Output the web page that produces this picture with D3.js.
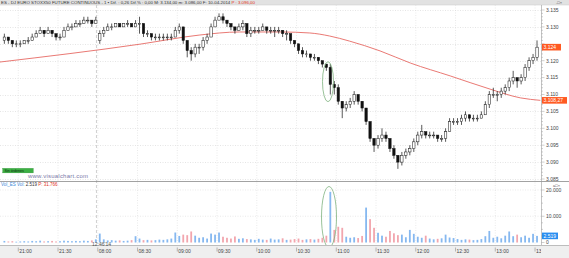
<!DOCTYPE html>
<html>
<head>
<meta charset="utf-8">
<script src="https://cdn.jsdelivr.net/npm/d3@7"></script>
<style>
  body { margin: 0; background: #fff; }
  svg { display: block; font-family: "Liberation Sans", Arial, sans-serif; }
</style>
</head>
<body>
<svg id="chart" width="569" height="258"></svg>
<script>
// 3-minute bars, first bar at 20:48 (session minute -12), day session starts at bar 24
const closes = [3127,3126,3125,3125,3125,3126,3126,3127,3128,3129,
  3128,3129,3128,3127,3127,3129,3130,3130,3131,3131,
  3132,3132,3131,3132,3128,3129,3130,3130,3131,3130,
  3131,3131,3130,3131,3131,3128,3128,3127,3127,3127,
  3127,3127,3127,3129,3130,3126,3123,3122,3124,3124,
  3126,3127,3130,3132,3133,3132,3131,3130,3129,3130,
  3131,3128,3129,3129,3129,3130,3129,3129,3129,3129,
  3128,3128,3126,3125,3123,3122,3122,3121,3121,3120,
  3119,3118,3113,3112,3108,3106,3107,3108,3110,3108,
  3106,3102,3097,3095,3097,3098,3097,3094,3092,3090,
  3092,3093,3094,3096,3098,3099,3098,3098,3098,3097,
  3097,3099,3102,3102,3102,3103,3104,3103,3103,3103,
  3104,3107,3110,3110,3110,3111,3112,3114,3115,3114,
  3115,3118,3120,3121,3124];
const highs = [3128,3127,3126,3126,3126,3126,3127,3128,3129,3130,
  3129,3130,3129,3128,3128,3130,3131,3131,3132,3132,
  3133,3133,3132,3133,3129,3130,3131,3131,3131,3131,
  3131,3132,3131,3132,3133,3131,3129,3128,3128,3128,
  3128,3128,3128,3130,3131,3130,3126,3124,3125,3125,
  3127,3128,3131,3133,3134,3134,3132,3131,3130,3131,
  3132,3131,3130,3130,3130,3131,3130,3130,3130,3130,
  3129,3129,3128,3126,3125,3124,3123,3122,3122,3121,
  3120,3119,3119,3114,3113,3108,3108,3109,3111,3110,
  3108,3106,3102,3097,3098,3100,3099,3097,3095,3092,
  3093,3094,3095,3097,3099,3101,3099,3099,3099,3098,
  3098,3100,3103,3103,3103,3104,3105,3104,3104,3104,
  3105,3108,3111,3112,3111,3112,3113,3115,3117,3115,
  3116,3119,3121,3122,3126];
const lows = [3125,3125,3124,3124,3124,3125,3125,3126,3127,3128,
  3127,3128,3127,3126,3126,3127,3129,3129,3130,3130,
  3131,3131,3130,3131,3125,3127,3129,3129,3130,3130,
  3130,3130,3130,3130,3128,3127,3127,3126,3126,3126,
  3126,3126,3126,3127,3128,3125,3121,3120,3121,3122,
  3123,3125,3127,3130,3132,3131,3130,3129,3128,3129,
  3129,3127,3127,3128,3128,3129,3128,3128,3127,3128,
  3127,3126,3125,3124,3122,3121,3121,3120,3120,3119,
  3118,3117,3110,3110,3107,3103,3105,3106,3107,3107,
  3105,3101,3096,3093,3094,3096,3096,3093,3091,3088,
  3089,3091,3092,3093,3095,3097,3097,3097,3097,3096,
  3096,3096,3099,3101,3101,3101,3102,3102,3102,3102,
  3103,3104,3106,3109,3108,3109,3110,3111,3113,3112,
  3113,3114,3117,3119,3120];
const volumes = [600,400,500,300,400,500,400,600,500,700,
  400,500,600,400,500,700,600,500,600,500,
  700,600,800,1200,3400,1200,800,900,700,800,
  600,700,900,2400,1500,900,1000,800,900,1100,
  1000,1200,1500,3800,2500,3000,2800,4200,2600,1800,
  2000,1500,3400,3000,3800,2200,1800,1500,2300,1400,
  1600,1300,1200,1000,1400,1100,1000,1500,1100,1200,
  1600,1000,1100,1300,1500,1000,1200,1300,1100,1400,
  1800,2600,19300,4800,6000,5600,2200,1800,2000,1700,
  2500,13300,8900,5600,3700,2600,2200,4400,3500,2800,
  3000,2000,4800,3300,2200,1800,2600,1500,1200,1400,
  1600,3000,1900,1700,1300,1000,1200,1100,900,1000,
  1300,2400,4400,1800,2200,1600,2600,4200,2400,3000,
  2000,2600,1800,3300,2519];
// volume bars the platform paints blue although the price bar closed lower
const volBlue = [82, 91];
const firstOpen = 3126;
const dayStart = 24;
const dayOpen = 3126;

// moving average (red line), session minute -> value
const maMinutes = [-14, 92, 137, 167, 198, 220, 235, 250, 273, 296, 326, 356, 379, 394];
const maValues = [3119.6, 3124.9, 3127.6, 3128.5, 3128.5, 3128.2, 3127.3, 3125.8, 3122.9, 3119.3, 3115.5, 3111.6, 3109.0, 3108.27];

const timeLabels = ["21:00","21:30","08:00","08:30","09:00","09:30","10:00","10:30","11:00","11:30","12:00","12:30","13:00","13:30"];
const priceTicks = [3085,3090,3095,3100,3105,3110,3115,3120,3125,3130,3135];
const volTicks = [0, 10000, 20000];

const SETTINGS = { plotRight: 541, priceTop: 5, priceBottom: 181.5, volBottom: 245 };

const loc = d3.formatLocale({decimal: ",", thousands: ".", grouping: [3], currency: ["", ""]});
const fmtInt = loc.format(",.0f");
const fmt2 = loc.format(",.2f");

const svg = d3.select("#chart");
const x = d3.scaleLinear().domain([-13.8, 394.5]).range([0, SETTINGS.plotRight]);
const y = d3.scaleLinear().domain([3085, 3135]).range([179, 10]);
const yv = d3.scaleLinear().domain([0, 20000]).range([242.5, 190]);

function barMinute(i) { return -10.5 + 3 * i; }
function barOpen(i) {
  if (i === 0) return firstOpen;
  if (i === dayStart) return dayOpen;
  return closes[i - 1];
}

let defs = svg.append("defs");
defs.append("clipPath").attr("id", "clipPrice")
  .append("rect").attr("x", 0).attr("y", SETTINGS.priceTop).attr("width", SETTINGS.plotRight).attr("height", SETTINGS.priceBottom - SETTINGS.priceTop);
defs.append("clipPath").attr("id", "clipVol")
  .append("rect").attr("x", 0).attr("y", SETTINGS.priceBottom).attr("width", SETTINGS.plotRight).attr("height", SETTINGS.volBottom - SETTINGS.priceBottom);
defs.append("clipPath").attr("id", "clipAxis")
  .append("rect").attr("x", 0).attr("y", 240).attr("width", SETTINGS.plotRight).attr("height", 20);

/* title band */
svg.append("rect").attr("x", 0).attr("y", 0).attr("width", 569).attr("height", 5).attr("fill", "#e2e2e2");
svg.append("line").attr("x1", 0).attr("x2", 569).attr("y1", 5).attr("y2", 5).attr("stroke", "#c8c8c8").attr("stroke-width", 0.5);
let title = svg.append("text").attr("x", 1).attr("y", 4.1).attr("font-size", 4.4).attr("fill", "#333")
  .attr("textLength", 254).attr("lengthAdjust", "spacing");
title.append("tspan").text("ES - DJ EURO STOXX50 FUTURE CONTINUOUS -  1 ▪ Dif. : 0,26 Dif.% : 0,00 M: 3.134,00 m: 3.086,00 F: 10-04-2014 ");
title.append("tspan").attr("fill", "#e03020").text("P : 3.096,00");
svg.append("text").attr("x", 556).attr("y", 4).attr("font-size", 4).attr("fill", "#555").text("-□×");

/* grid, price panel */
let grid = svg.append("g");
grid.selectAll("line.h").data(priceTicks).enter().append("line")
  .attr("x1", 0).attr("x2", SETTINGS.plotRight)
  .attr("y1", d => Math.round(y(d)) + 0.5).attr("y2", d => Math.round(y(d)) + 0.5)
  .attr("stroke", "#d4d4d4").attr("stroke-width", 0.6).attr("stroke-dasharray", "1,1.5");
grid.selectAll("line.v").data(timeLabels).enter().append("line")
  .attr("x1", (d, i) => x(i * 30)).attr("x2", (d, i) => x(i * 30))
  .attr("y1", SETTINGS.priceTop).attr("y2", SETTINGS.volBottom)
  .attr("stroke", "#dcdcdc").attr("stroke-width", 0.6).attr("stroke-dasharray", "1,1.5");
grid.selectAll("line.vh").data(volTicks.slice(1)).enter().append("line")
  .attr("x1", 0).attr("x2", SETTINGS.plotRight)
  .attr("y1", d => yv(d)).attr("y2", d => yv(d))
  .attr("stroke", "#dcdcdc").attr("stroke-width", 0.6).attr("stroke-dasharray", "1,1.5");
// session break
grid.append("line").attr("x1", x(59)).attr("x2", x(59)).attr("y1", SETTINGS.priceTop).attr("y2", SETTINGS.volBottom)
  .attr("stroke", "#c4c4c4").attr("stroke-width", 0.8).attr("stroke-dasharray", "3,2");

/* moving average */
let maLine = d3.line().x((d, i) => x(maMinutes[i])).y(d => y(d)).curve(d3.curveMonotoneX);
svg.append("path").attr("clip-path", "url(#clipPrice)").attr("d", maLine(maValues))
  .attr("fill", "none").attr("stroke", "#e66a64").attr("stroke-width", 0.9);

/* candles */
let candles = svg.append("g").attr("clip-path", "url(#clipPrice)")
  .selectAll("g").data(closes).enter().append("g");
candles.append("line")
  .attr("x1", (d, i) => x(barMinute(i))).attr("x2", (d, i) => x(barMinute(i)))
  .attr("y1", (d, i) => y(highs[i])).attr("y2", (d, i) => y(lows[i]))
  .attr("stroke", "#111").attr("stroke-width", 0.7);
candles.append("rect")
  .attr("x", (d, i) => x(barMinute(i)) - 1.2).attr("width", 2.4)
  .attr("y", (d, i) => y(Math.max(d, barOpen(i))))
  .attr("height", (d, i) => Math.max(0.8, Math.abs(y(d) - y(barOpen(i)))))
  .attr("fill", (d, i) => d >= barOpen(i) ? "#fff" : "#111")
  .attr("stroke", "#111").attr("stroke-width", 0.5);

/* volume */
svg.append("g").attr("clip-path", "url(#clipVol)")
  .selectAll("rect").data(volumes).enter().append("rect")
  .attr("x", (d, i) => x(barMinute(i)) - 0.9).attr("width", 1.8)
  .attr("y", d => yv(d)).attr("height", d => yv(0) - yv(d))
  .attr("fill", (d, i) => (closes[i] >= barOpen(i) || volBlue.includes(i)) ? "#86b8f0" : "#f2a6ae");

/* highlight ellipses */
svg.append("ellipse").attr("cx", 328).attr("cy", 81.7).attr("rx", 5.5).attr("ry", 20)
  .attr("fill", "none").attr("stroke", "#7fb27f").attr("stroke-width", 0.8);
svg.append("ellipse").attr("cx", 329).attr("cy", 217).attr("rx", 7.5).attr("ry", 30.5)
  .attr("fill", "none").attr("stroke", "#7fb27f").attr("stroke-width", 0.8);

/* panel separator */
svg.append("line").attr("x1", 0).attr("x2", 569).attr("y1", SETTINGS.priceBottom).attr("y2", SETTINGS.priceBottom)
  .attr("stroke", "#8a8a8a").attr("stroke-width", 0.8);

/* labels inside the price panel */
svg.append("rect").attr("x", 2.7).attr("y", 168.3).attr("width", 30.6).attr("height", 4.6)
  .attr("fill", "#3cb043").attr("stroke", "#2a8a30").attr("stroke-width", 0.3);
svg.append("text").attr("x", 4.5).attr("y", 171.9).attr("font-size", 3.6).attr("fill", "#0d2a0d").text("Sin órdenes");
svg.append("text").attr("x", 28).attr("y", 177.6).attr("font-size", 6).attr("fill", "#7a78a8")
  .attr("textLength", 60).text("www.visualchart.com");

/* volume header */
let vh = svg.append("text").attr("x", 1).attr("y", 186.2).attr("font-size", 4.5);
vh.append("tspan").attr("fill", "#3d8ad8").text("Vol_ES Vol: ");
vh.append("tspan").attr("fill", "#333").text(fmtInt(volumes[volumes.length - 1]) + " ");
vh.append("tspan").attr("fill", "#e03020").text("P: 31.766");
svg.append("text").attr("x", 553).attr("y", 186.5).attr("font-size", 4).attr("fill", "#555").text("a□×");

/* right axis */
const lastClose = closes[closes.length - 1];
const lastMa = maValues[maValues.length - 1];
// tick labels hidden under a value box are not drawn
let freeTicks = priceTicks.filter(d => Math.abs(y(d) - y(lastClose)) > 5 && Math.abs(y(d) - y(lastMa)) > 5);
let ra = svg.append("g");
ra.append("line").attr("x1", 541.5).attr("x2", 541.5).attr("y1", SETTINGS.priceTop).attr("y2", SETTINGS.volBottom)
  .attr("stroke", "#9a9a9a").attr("stroke-width", 0.6);
ra.selectAll("line.minor").data(d3.range(3085, 3136, 1)).enter().append("line")
  .attr("x1", 541.5).attr("x2", d => d % 5 === 0 ? 544.5 : 543)
  .attr("y1", d => y(d)).attr("y2", d => y(d)).attr("stroke", "#888").attr("stroke-width", 0.4);
ra.selectAll("text.p").data(freeTicks).enter().append("text")
  .attr("x", 546).attr("y", d => y(d) + 1.8).attr("font-size", 5).attr("fill", "#444")
  .text(d => fmtInt(d));
ra.selectAll("line.vminor").data(d3.range(0, 20001, 2500)).enter().append("line")
  .attr("x1", 541.5).attr("x2", d => d % 10000 === 0 ? 544.5 : 543)
  .attr("y1", d => yv(d)).attr("y2", d => yv(d)).attr("stroke", "#888").attr("stroke-width", 0.4);
ra.selectAll("text.v").data(volTicks).enter().append("text")
  .attr("x", 546).attr("y", d => yv(d) + 1.8).attr("font-size", 5).attr("fill", "#444")
  .text(d => fmtInt(d));

// value boxes on the axis
function valueBox(yy, w, fill, label) {
  svg.append("rect").attr("x", 542).attr("y", yy - 3.3).attr("width", w).attr("height", 6.6).attr("fill", fill);
  svg.append("text").attr("x", 543.5).attr("y", yy + 1.8).attr("font-size", 5).attr("fill", "#fff").text(label);
}
valueBox(y(lastClose), 19, "#ff5a22", fmtInt(lastClose));
valueBox(y(lastMa), 25, "#ff5a22", fmt2(lastMa));
valueBox(yv(volumes[volumes.length - 1]), 16, "#2a8ef0", fmtInt(volumes[volumes.length - 1]));

/* time axis */
svg.append("rect").attr("x", 0).attr("y", SETTINGS.volBottom).attr("width", 569).attr("height", 258 - SETTINGS.volBottom).attr("fill", "#efefef");
svg.append("line").attr("x1", 0).attr("x2", 569).attr("y1", SETTINGS.volBottom + 0.5).attr("y2", SETTINGS.volBottom + 0.5)
  .attr("stroke", "#9a9a9a").attr("stroke-width", 0.6);
let ta = svg.append("g").attr("clip-path", "url(#clipAxis)");
ta.selectAll("line").data(timeLabels).enter().append("line")
  .attr("x1", (d, i) => x(i * 30)).attr("x2", (d, i) => x(i * 30))
  .attr("y1", 247.5).attr("y2", 251.5).attr("stroke", "#777").attr("stroke-width", 0.5);
ta.selectAll("text").data(timeLabels).enter().append("text")
  .attr("x", (d, i) => x(i * 30) + 1).attr("y", 252.5).attr("font-size", 5).attr("fill", "#444")
  .text(d => d);

// cursor time readout at the session break
svg.append("text").attr("x", 92).attr("y", 246).attr("font-size", 5).attr("fill", "#555").text("12:46'14");
</script>
</body>
</html>
